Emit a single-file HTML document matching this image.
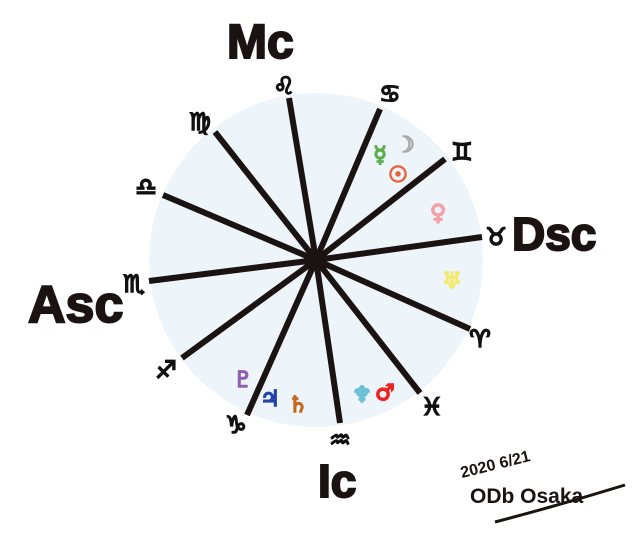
<!DOCTYPE html>
<html><head><meta charset="utf-8"><style>
html,body{margin:0;padding:0;background:#fff;}
svg{display:block}
text{font-family:"DejaVu Sans","Liberation Sans",sans-serif;}
</style></head><body>
<svg width="640" height="533" viewBox="0 0 640 533">
<circle cx="316" cy="260" r="167" fill="#eef5fa"/>
<g stroke="#1b1311" stroke-width="6" stroke-linecap="butt">
<line x1="316" y1="260" x2="289" y2="98"/>
<line x1="316" y1="260" x2="380" y2="109"/>
<line x1="316" y1="260" x2="445" y2="159"/>
<line x1="316" y1="260" x2="482" y2="237"/>
<line x1="316" y1="260" x2="470" y2="329"/>
<line x1="316" y1="260" x2="420" y2="393"/>
<line x1="316" y1="260" x2="340" y2="423"/>
<line x1="316" y1="260" x2="247" y2="415"/>
<line x1="316" y1="260" x2="182" y2="358"/>
<line x1="316" y1="260" x2="149" y2="281"/>
<line x1="316" y1="260" x2="163" y2="195"/>
<line x1="316" y1="260" x2="215" y2="132"/>
</g>
<circle cx="316" cy="260" r="6" fill="#1b1311"/>
<g fill="#111" stroke="#111" stroke-width="1.6" font-size="24" text-anchor="middle">
<text x="284" y="94">♌︎</text>
<text x="390" y="102">♋︎</text>
<text x="462" y="160">♊︎</text>
<text x="496" y="245">♉︎</text>
<text x="480" y="347">♈︎</text>
<text x="432" y="415">♓︎</text>
<text x="340" y="448">♒︎</text>
<text x="236" y="433">♑︎</text>
<text x="166" y="378">♐︎</text>
<text x="134" y="292">♏︎</text>
<text x="146" y="195">♎︎</text>
<text x="200" y="130">♍︎</text>
</g>
<g font-size="22" stroke-width="1.5" text-anchor="middle">
<text x="380" y="162" fill="#5cae4a" stroke="#5cae4a">☿︎</text>
<text x="405" y="152" fill="#aaa" stroke="#aaa">☽︎</text>
<text x="398" y="182" fill="#e8623e" stroke="#e8623e">☉︎</text>
<text x="438" y="220" fill="#f4a0a8" stroke="#f4a0a8">♀︎</text>
<text x="452" y="288" fill="#f2ea6a" stroke="#f2ea6a">♅︎</text>
<text x="362" y="402" fill="#6cc0d4" stroke="#6cc0d4">♆︎</text>
<text x="385" y="400" fill="#e22" stroke="#e22">♂︎</text>
<text x="243" y="387" fill="#9060b0" stroke="#9060b0">♇︎</text>
<text x="270" y="406" fill="#2244aa" stroke="#2244aa">♃︎</text>
<text x="298" y="412" fill="#c06a20" stroke="#c06a20">♄︎</text>
</g>
<g fill="#1b1311" stroke="#1b1311" stroke-width="2" font-weight="bold">
<text x="227" y="58" font-size="48" style="font-family:'Liberation Sans'">Mc</text>
<text x="28" y="322" font-size="52" style="font-family:'Liberation Sans'">Asc</text>
<text x="512" y="250" font-size="46" style="font-family:'Liberation Sans'">Dsc</text>
<text x="318" y="497" font-size="46" style="font-family:'Liberation Sans'">Ic</text>
</g>
<g fill="#1b1311" font-weight="bold">
<text x="462" y="478" font-size="16" transform="rotate(-14 462 478)" style="font-family:'Liberation Sans'">2020 6/21</text>
<text x="470" y="503" font-size="21" style="font-family:'Liberation Sans'">ODb Osaka</text>
</g>
<path d="M495 522 Q560 505 625 485" stroke="#1b1311" stroke-width="3" fill="none"/>
</svg>
</body></html>
